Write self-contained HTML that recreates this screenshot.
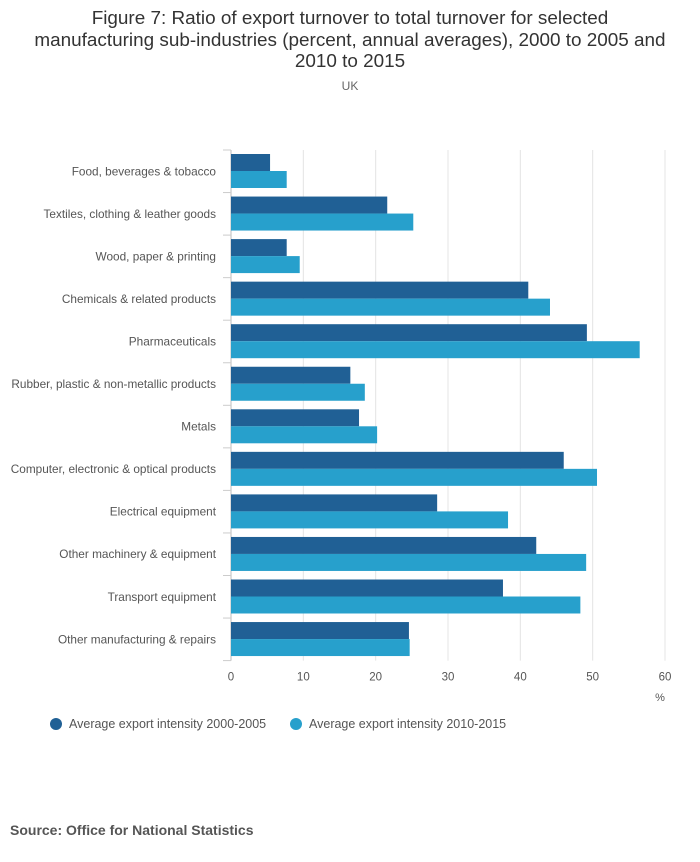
<!DOCTYPE html>
<html><head><meta charset="utf-8"><style>
body{margin:0;background:#fff;font-family:"Liberation Sans",sans-serif;}
</style></head><body>
<svg width="700" height="857" xmlns="http://www.w3.org/2000/svg" id="chart">
<text x="350" y="24" text-anchor="middle" font-size="18.9" fill="#333">Figure 7: Ratio of export turnover to total turnover for selected</text>
<text x="350" y="46" text-anchor="middle" font-size="18.9" fill="#333">manufacturing sub-industries (percent, annual averages), 2000 to 2005 and</text>
<text x="350" y="67" text-anchor="middle" font-size="18.9" fill="#333">2010 to 2015</text>
<text x="350" y="90" text-anchor="middle" font-size="12" fill="#666">UK</text>
<g id="grid"></g><g id="bars"></g><g id="labels"></g>
<text x="660" y="701" text-anchor="middle" font-size="11" fill="#555">%</text>
<circle cx="56" cy="724" r="6" fill="#206095"/>
<text x="69" y="728" font-size="12.5" fill="#555">Average export intensity 2000-2005</text>
<circle cx="296" cy="724" r="6" fill="#27a0cc"/>
<text x="309" y="728" font-size="12.5" fill="#555">Average export intensity 2010-2015</text>
<text x="10" y="835" font-size="14" font-weight="bold" fill="#555">Source: Office for National Statistics</text>
</svg>
<script>
const categories=["Food, beverages & tobacco","Textiles, clothing & leather goods","Wood, paper & printing","Chemicals & related products","Pharmaceuticals","Rubber, plastic & non-metallic products","Metals","Computer, electronic & optical products","Electrical equipment","Other machinery & equipment","Transport equipment","Other manufacturing & repairs"];
const series2000=[5.4,21.6,7.7,41.1,49.2,16.5,17.7,46.0,28.5,42.2,37.6,24.6];
const series2010=[7.7,25.2,9.5,44.1,56.5,18.5,20.2,50.6,38.3,49.1,48.3,24.7];
const ticks=[0,10,20,30,40,50,60];
const NS="http://www.w3.org/2000/svg";
const x0=231,x1=665,plotTop=150,band=42.55;
const xs=v=>x0+(v-0)/(60-0)*(x1-x0);
const grid=document.getElementById('grid'),bars=document.getElementById('bars'),labels=document.getElementById('labels');
function mk(tag,attrs,parent){const e=document.createElementNS(NS,tag);for(const k in attrs)e.setAttribute(k,attrs[k]);parent.appendChild(e);return e;}
const plotBottom=plotTop+band*categories.length;
ticks.forEach(t=>{
 const l=mk('line',{x1:xs(t),x2:xs(t),y1:plotTop,y2:plotBottom,stroke:t===0?'#bbb':'#e4e4e4','stroke-width':1},grid);
 
 
 const tx=mk('text',{x:xs(t),y:plotBottom+20,'text-anchor':'middle','font-size':11.5,fill:'#555'},labels);
 tx.textContent=t;
 
 
});
for(let i=0;i<=categories.length;i++){
 const tk=mk('line',{x1:x0-8,x2:x0,y1:plotTop+i*band,y2:plotTop+i*band,stroke:'#ccc'},grid);
 
 
}
categories.forEach((c,i)=>{
 const y=plotTop+i*band+4;
 const b1=mk('rect',{x:x0,y:y,width:xs(series2000[i])-x0,height:17,fill:'#206095'},bars);
 
 
 const b2=mk('rect',{x:x0,y:y+17,width:xs(series2010[i])-x0,height:17,fill:'#27a0cc'},bars);
 
 
 const t=mk('text',{x:216,y:plotTop+i*band+band/2+4,'text-anchor':'end','font-size':11.8,fill:'#555'},labels);
 t.textContent=c;
 
 
});
</script>
</body></html>
